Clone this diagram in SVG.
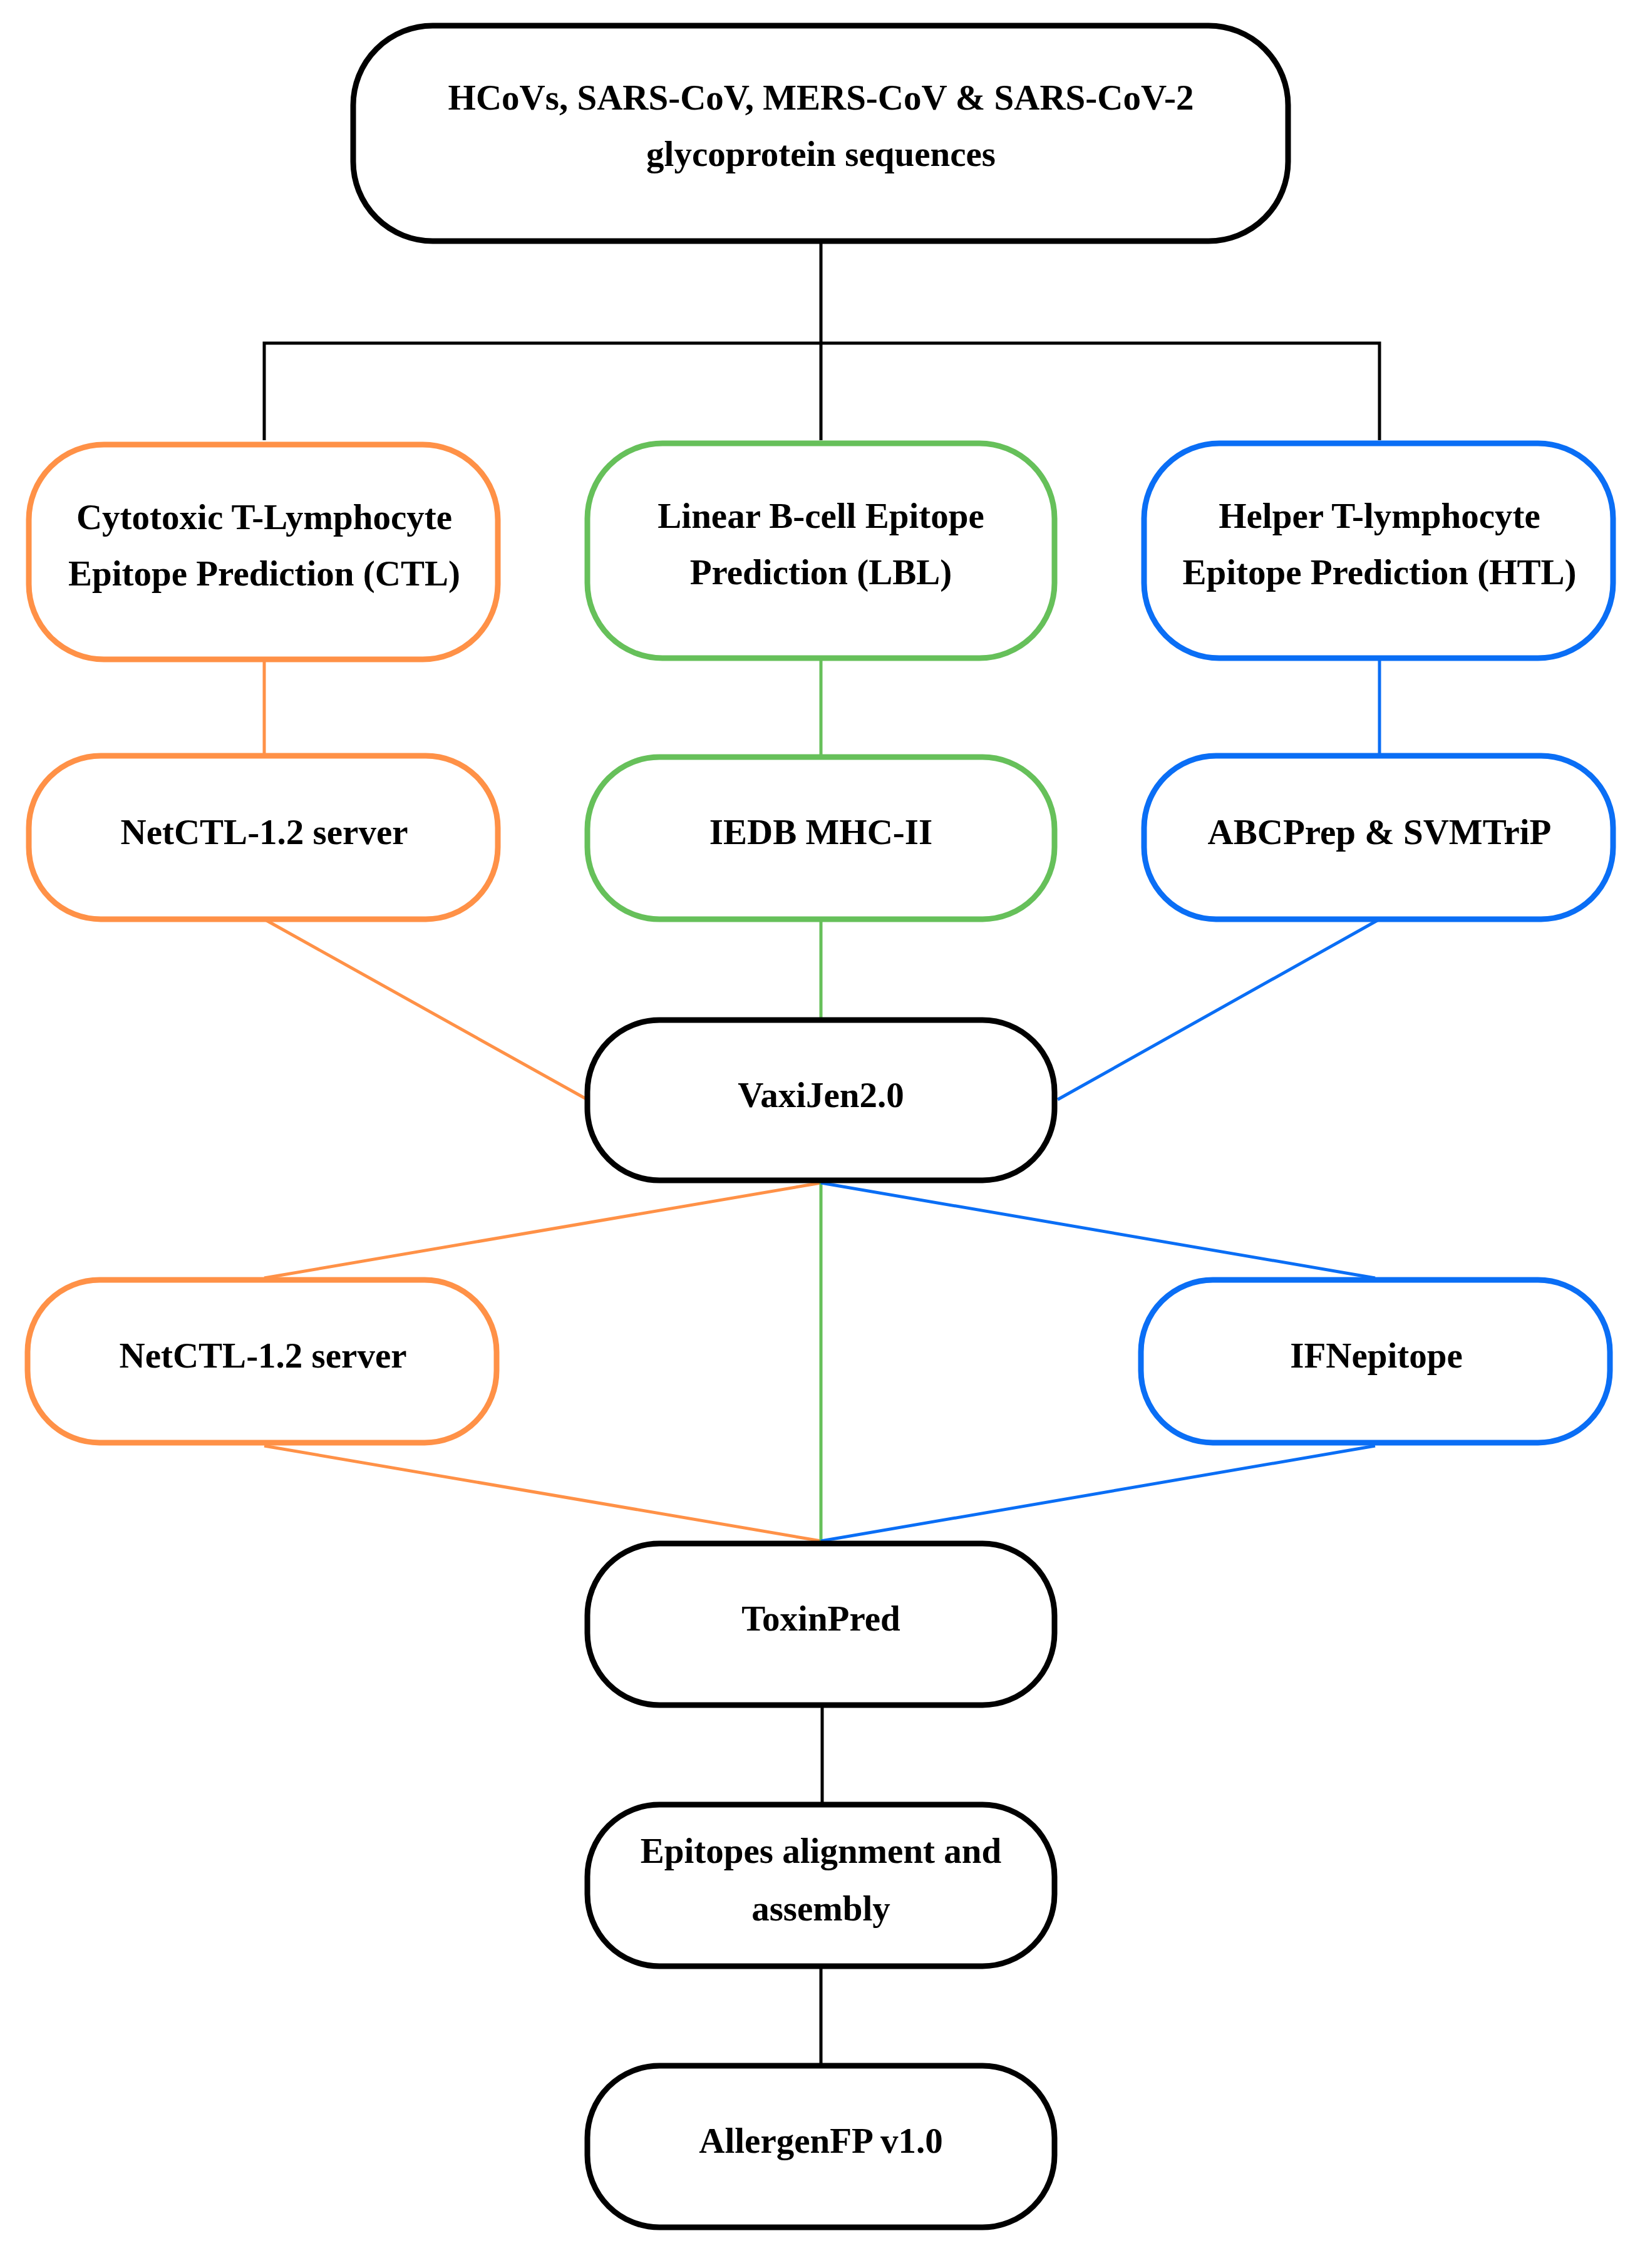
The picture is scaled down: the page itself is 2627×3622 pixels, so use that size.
<svg xmlns="http://www.w3.org/2000/svg" width="2627" height="3622" viewBox="0 0 2627 3622">
<style>
.b{fill:#fff;stroke-width:9}
.k{stroke:#000}.o{stroke:#FF9147}.g{stroke:#66C05A}.u{stroke:#0A6EF5}
.c{fill:none;stroke-width:5}
text{font-family:"Liberation Serif","Times New Roman",serif;font-weight:bold;font-size:57px;text-anchor:middle;fill:#000}
</style>
<rect width="2627" height="3622" fill="#fff"/>
<g id="connectors">
<path class="c k" d="M1311 385V548M422 703V548H2203V703M1311 548V703"/>
<path class="c o" d="M422 1053V1207M422 1468L938 1756M1311 1889L422 2041M422 2309L1311 2461"/>
<path class="c g" d="M1311 1053V1207M1311 1468V1629M1311 1889V2461"/>
<path class="c u" d="M2203 1053V1207M2203 1468L1689 1756M1311 1889L2196 2041M2196 2309L1311 2461"/>
<path class="c k" d="M1313 2723V2882M1311 3140V3299"/>
</g>
<g id="n1"><rect class="b k" x="564" y="41" width="1493" height="344" rx="127"/><text x="1311" y="175">HCoVs, SARS-CoV, MERS-CoV &amp; SARS-CoV-2</text><text x="1311" y="265">glycoprotein sequences</text></g>
<g id="n2"><rect class="b o" x="46" y="710" width="749" height="343" rx="120"/><text x="422" y="845">Cytotoxic T-Lymphocyte</text><text x="422" y="935">Epitope Prediction (CTL)</text></g>
<g id="n3"><rect class="b g" x="938" y="708" width="746" height="343" rx="120"/><text x="1311" y="843">Linear B-cell Epitope</text><text x="1311" y="933">Prediction (LBL)</text></g>
<g id="n4"><rect class="b u" x="1827" y="708" width="749" height="343" rx="120"/><text x="2203" y="843">Helper T-lymphocyte</text><text x="2203" y="933">Epitope Prediction (HTL)</text></g>
<g id="n5"><rect class="b o" x="46" y="1207" width="749" height="261" rx="115"/><text x="422" y="1348">NetCTL-1.2 server</text></g>
<g id="n6"><rect class="b g" x="938" y="1209" width="746" height="259" rx="115"/><text x="1311" y="1348">IEDB MHC-II</text></g>
<g id="n7"><rect class="b u" x="1827" y="1207" width="749" height="261" rx="115"/><text x="2203" y="1348">ABCPrep &amp; SVMTriP</text></g>
<g id="n8"><rect class="b k" x="938" y="1629" width="746" height="256" rx="115"/><text x="1311" y="1768">VaxiJen2.0</text></g>
<g id="n9"><rect class="b o" x="44" y="2044" width="749" height="260" rx="115"/><text x="420" y="2184">NetCTL-1.2 server</text></g>
<g id="n10"><rect class="b u" x="1822" y="2044" width="749" height="260" rx="115"/><text x="2198" y="2184">IFNepitope</text></g>
<g id="n11"><rect class="b k" x="938" y="2465" width="746" height="258" rx="115"/><text x="1311" y="2604">ToxinPred</text></g>
<g id="n12"><rect class="b k" x="938" y="2882" width="746" height="258" rx="115"/><text x="1311" y="2975">Epitopes alignment and</text><text x="1311" y="3067">assembly</text></g>
<g id="n13"><rect class="b k" x="938" y="3299" width="746" height="258" rx="115"/><text x="1311" y="3438">AllergenFP v1.0</text></g>
</svg>
